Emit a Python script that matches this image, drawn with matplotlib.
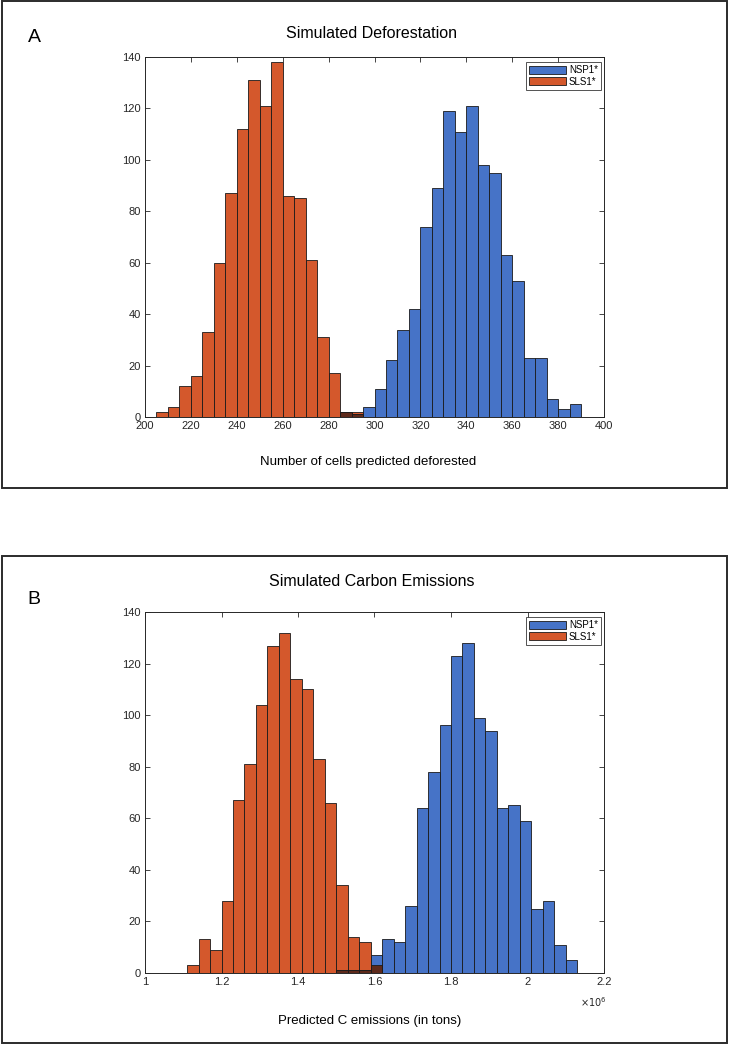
import numpy as np
import matplotlib.pyplot as plt
from matplotlib.patches import Rectangle
from matplotlib.ticker import FormatStrFormatter

plt.rcParams['font.family'] = ['Liberation Sans', 'DejaVu Sans']

# panel A: counts per 5-cell bin
a_bin_width = 5
sls_a_start = 205
sls_a = [2, 4, 12, 16, 33, 60, 87, 112, 131, 121, 138, 86, 85, 61, 31, 17, 2, 2]
nsp_a_start = 285
nsp_a = [2, 1, 4, 11, 22, 34, 42, 74, 89, 119, 111, 121, 98, 95, 63, 53, 23, 23, 7, 3, 5]

# panel B: counts per bin (x in 10^6 tons)
b_bin_width = 0.03
sls_b_start = 1.11
sls_b = [3, 13, 9, 28, 67, 81, 104, 127, 132, 114, 110, 83, 66, 34, 14, 12, 3]
nsp_b_start = 1.50
nsp_b = [1, 1, 1, 7, 13, 12, 26, 64, 78, 96, 123, 128, 99, 94, 64, 65, 59, 25, 28, 11, 5]

labels = ['NSP1*', 'SLS1*']
blue = '#4673c7'
orange = '#d4582c'
dark = '#5e2a1b'
axcol = '#262626'

W, H = 729, 1045
fig = plt.figure(figsize=(W / 100, H / 100), dpi=100)


def draw_panel(rect, sls_start, sls, nsp_start, nsp, width, xlim, xticks):
    l, t, r, b = rect
    ax = fig.add_axes([l / W, 1 - b / H, (r - l) / W, (b - t) / H])
    sls_x = sls_start + width * np.arange(len(sls))
    nsp_x = nsp_start + width * np.arange(len(nsp))
    ax.bar(sls_x, sls, width=width, align='edge', color=orange,
           edgecolor='#1a1a1a', linewidth=0.6, label=labels[1], zorder=2)
    ax.bar(nsp_x, nsp, width=width, align='edge', color=blue,
           edgecolor='#1a1a1a', linewidth=0.6, label=labels[0], zorder=3)
    # where the two histograms overlap
    keys = np.round(sls_x, 4)
    sls_map = dict(zip(keys, sls))
    ov_x, ov_h = [], []
    for x, h in zip(np.round(nsp_x, 4), nsp):
        if x in sls_map:
            ov_x.append(x)
            ov_h.append(min(h, sls_map[x]))
    ax.bar(ov_x, ov_h, width=width, align='edge', color=dark,
           edgecolor='#1a1a1a', linewidth=0.6, zorder=4)
    ax.set_xlim(*xlim)
    ax.set_ylim(0, 140)
    ax.set_xticks(xticks)
    ax.set_yticks(np.arange(0, 141, 20))
    ax.tick_params(direction='in', length=3.5, width=0.6, labelsize=8,
                   colors=axcol, top=True, right=True, pad=3)
    for s in ax.spines.values():
        s.set_color(axcol)
        s.set_linewidth(0.7)
    h, lab = ax.get_legend_handles_labels()
    leg = ax.legend([h[1], h[0]], [lab[1], lab[0]], loc='upper right',
                    bbox_to_anchor=(0.993, 0.985), fontsize=7, frameon=True,
                    fancybox=False, edgecolor=axcol, handlelength=3.8,
                    handleheight=0.9, borderpad=0.3, labelspacing=0.15,
                    handletextpad=0.3, borderaxespad=0)
    leg.get_frame().set_linewidth(0.7)
    return ax


axA = draw_panel((145, 57, 604, 417), sls_a_start, sls_a, nsp_a_start, nsp_a,
                 a_bin_width, (200, 400), np.arange(200, 401, 20))
axB = draw_panel((145, 612, 604, 973), sls_b_start, sls_b, nsp_b_start, nsp_b,
                 b_bin_width, (1.0, 2.2), np.round(np.arange(1.0, 2.21, 0.2), 1))
axB.xaxis.set_major_formatter(FormatStrFormatter('%g'))

# panel frames
for top, bot in [(1, 488), (556, 1043)]:
    fig.patches.append(Rectangle((1.5 / W, 1 - bot / H), 725.5 / W, (bot - top) / H,
                                 transform=fig.transFigure, fill=False,
                                 edgecolor='#2b2b2b', linewidth=1.4))

fig.text(372 / W, 1 - 33 / H, 'Simulated Deforestation', ha='center', va='center',
         fontsize=11.5)
fig.text(34 / W, 1 - 38 / H, 'A', ha='center', va='center', fontsize=14)
fig.text(368 / W, 1 - 462 / H, 'Number of cells predicted deforested',
         ha='center', va='center', fontsize=9.5)

fig.text(372 / W, 1 - 581 / H, 'Simulated Carbon Emissions', ha='center',
         va='center', fontsize=11.5)
fig.text(34 / W, 1 - 600 / H, 'B', ha='center', va='center', fontsize=14)
fig.text(593 / W, 1 - 1002 / H, r'$\times10^6$', ha='center', va='center',
         fontsize=7, color=axcol)
fig.text(370 / W, 1 - 1021 / H, 'Predicted C emissions (in tons)',
         ha='center', va='center', fontsize=9.5)

fig.savefig('out.png', dpi=100)
